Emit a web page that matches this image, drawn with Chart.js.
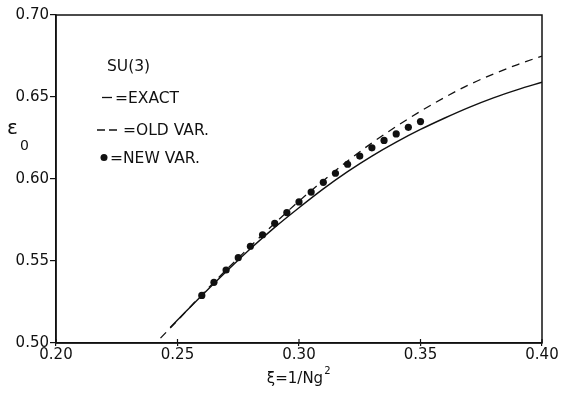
<!DOCTYPE html>
<html>
<head>
<meta charset="utf-8">
<script src="https://cdn.jsdelivr.net/npm/chart.js@4/dist/chart.umd.min.js"></script>
<style>
  html, body { margin: 0; padding: 0; background: #fff; }
  #wrap { width: 561px; height: 394px; }
</style>
</head>
<body>
<div id="wrap"><canvas id="SUChart" width="561" height="394"></canvas></div>
<script>
// xi = 1/Ng^2 values and energies
var xiExact = [0.247, 0.25, 0.26, 0.27, 0.28, 0.29, 0.30, 0.31, 0.32, 0.33, 0.34, 0.35, 0.36, 0.37, 0.38, 0.39, 0.40];
var exactVals = [0.5095, 0.514, 0.529, 0.5435, 0.5575, 0.5705, 0.5825, 0.594, 0.6045, 0.614, 0.6225, 0.6302, 0.6372, 0.6437, 0.6495, 0.6545, 0.659];

var xiOld = [0.243, 0.25, 0.26, 0.27, 0.28, 0.29, 0.30, 0.31, 0.32, 0.33, 0.34, 0.35, 0.36, 0.37, 0.38, 0.39, 0.40];
var oldVals = [0.503, 0.5137, 0.5295, 0.5445, 0.559, 0.573, 0.5865, 0.599, 0.611, 0.622, 0.632, 0.6413, 0.6498, 0.6575, 0.664, 0.6698, 0.675];

var xiNew = [0.26, 0.265, 0.27, 0.275, 0.28, 0.285, 0.29, 0.295, 0.30, 0.305, 0.31, 0.315, 0.32, 0.325, 0.33, 0.335, 0.34, 0.345, 0.35];
var newVals = [0.529, 0.537, 0.5445, 0.552, 0.559, 0.566, 0.573, 0.5795, 0.586, 0.592, 0.598, 0.6035, 0.609, 0.614, 0.619, 0.6235, 0.6275, 0.6315, 0.635];

var legendRows = ['SU(3)', '=EXACT', '=OLD VAR.', '=NEW VAR.'];

function pts(xs, ys) {
    var out = [];
    for (var i = 0; i < xs.length; i++) out.push({ x: xs[i], y: ys[i] });
    return out;
}

var FONT = '"DejaVu Sans", sans-serif';

// box, inner ticks, axis titles and the hand-drawn key
var decor = {
    id: 'decor',
    afterDraw: function (chart) {
        var c = chart.ctx, a = chart.chartArea;
        var xs = chart.scales.x;
        c.save();
        c.strokeStyle = '#111';
        c.lineWidth = 1.5;
        c.strokeRect(a.left, a.top, a.right - a.left, a.bottom - a.top);

        // small inward ticks
        c.lineWidth = 1.2;
        xs.ticks.forEach(function (t) {
            var px = xs.getPixelForValue(t.value);
            c.beginPath(); c.moveTo(px, a.bottom); c.lineTo(px, a.bottom - 4); c.stroke();
        });

        c.fillStyle = '#111';
        // y title: epsilon_0
        c.font = '20px ' + FONT;
        c.textAlign = 'left'; c.textBaseline = 'alphabetic';
        c.fillText('\u03b5', 7, 134);
        c.font = '14px ' + FONT;
        c.fillText('0', 20, 150);

        // x title
        var cx = (a.left + a.right) / 2 - 4;
        c.font = '15px ' + FONT;
        var w = c.measureText('\u03be=1/Ng').width;
        c.textAlign = 'center';
        c.fillText('\u03be=1/Ng', cx, 383);
        c.font = '10px ' + FONT;
        c.textAlign = 'left';
        c.fillText('2', cx + w / 2 + 1, 374);

        // key
        c.font = '15.5px ' + FONT;
        c.textAlign = 'left';
        c.fillText(legendRows[0], 107, 71);
        c.fillText(legendRows[1], 115, 103);
        c.fillText(legendRows[2], 123, 135);
        c.fillText(legendRows[3], 110, 163);

        c.lineWidth = 1.3;
        c.beginPath(); c.moveTo(102, 97.5); c.lineTo(112, 97.5); c.stroke();
        c.setLineDash([8, 4]);
        c.beginPath(); c.moveTo(97, 130); c.lineTo(121, 130); c.stroke();
        c.setLineDash([]);
        c.beginPath(); c.arc(104, 157.5, 3.5, 0, Math.PI * 2); c.fill();
        c.restore();
    }
};

var ctx = document.getElementById('SUChart').getContext('2d');
window.SUChart = new Chart(ctx, {
    type: 'scatter',
    data: {
        datasets: [
            {
                label: 'EXACT',
                data: pts(xiExact, exactVals),
                showLine: true,
                borderColor: '#111',
                borderWidth: 1.4,
                pointRadius: 0,
                cubicInterpolationMode: 'monotone'
            },
            {
                label: 'OLD VAR.',
                data: pts(xiOld, oldVals),
                showLine: true,
                borderColor: '#111',
                borderWidth: 1.3,
                borderDash: [8, 6],
                pointRadius: 0,
                cubicInterpolationMode: 'monotone'
            },
            {
                label: 'NEW VAR.',
                data: pts(xiNew, newVals),
                showLine: false,
                backgroundColor: '#111',
                borderColor: '#111',
                pointRadius: 3.6,
                pointBorderWidth: 0
            }
        ]
    },
    options: {
        responsive: false,
        animation: false,
        layout: { padding: { top: 15, right: 19, left: 0, bottom: 0 } },
        plugins: { legend: { display: false }, tooltip: { enabled: false } },
        scales: {
            x: {
                type: 'linear',
                min: 0.2, max: 0.4,
                afterFit: function (s) { s.height = 51; },
                border: { display: true, color: '#111', width: 1.5 },
                grid: { drawOnChartArea: false, tickLength: 3, color: '#111', lineWidth: 1.2 },
                ticks: {
                    stepSize: 0.05,
                    color: '#111',
                    padding: 0,
                    font: { family: FONT, size: 15 },
                    maxRotation: 0,
                    callback: function (v) { return v.toFixed(2); }
                }
            },
            y: {
                type: 'linear',
                min: 0.5, max: 0.7,
                afterFit: function (s) { s.width = 56; },
                border: { display: true, color: '#111', width: 1.5 },
                grid: { drawOnChartArea: false, tickLength: 6, color: '#111', lineWidth: 1.2 },
                ticks: {
                    stepSize: 0.05,
                    color: '#111',
                    padding: 1,
                    font: { family: FONT, size: 15 },
                    callback: function (v) { return v.toFixed(2); }
                }
            }
        }
    },
    plugins: [decor]
});
</script>
</body>
</html>
